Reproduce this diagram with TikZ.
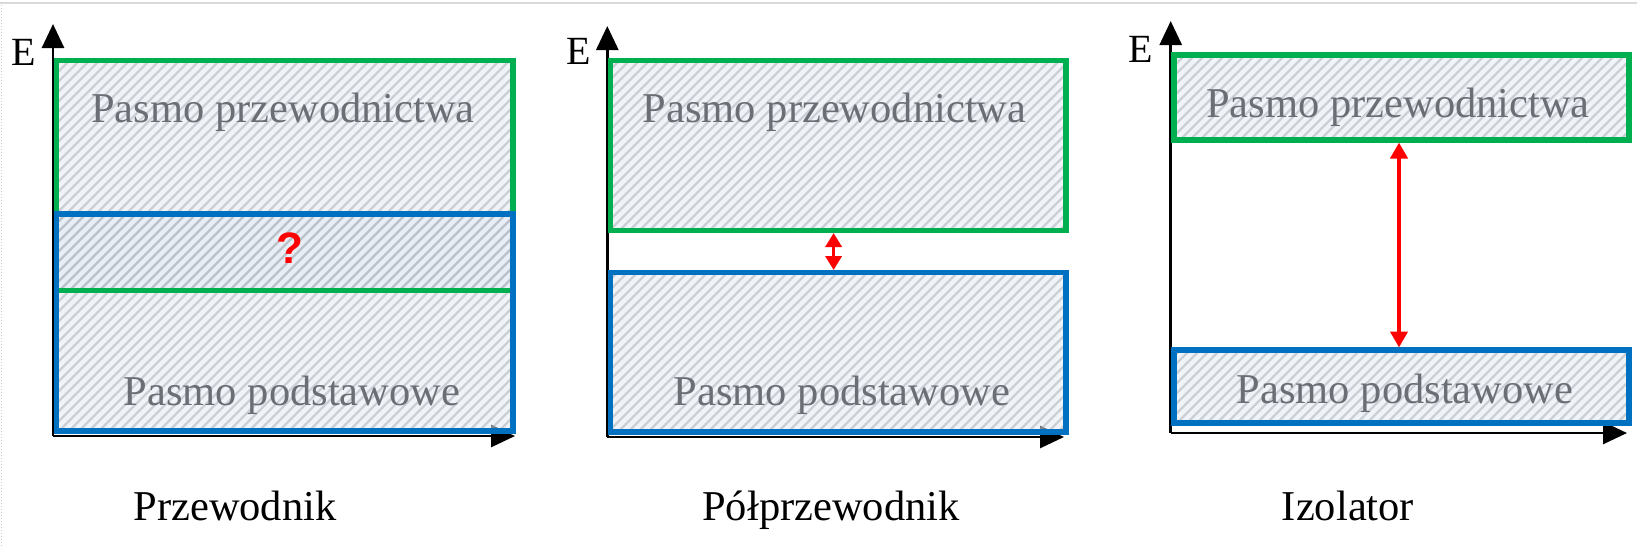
\documentclass[tikz,border=0pt]{standalone}
\usepackage{fontspec}
\setmainfont{Liberation Serif}
\newfontfamily\qfont{Liberation Sans}
\usetikzlibrary{arrows.meta}
\definecolor{bandgreen}{HTML}{00B050}
\definecolor{bandblue}{HTML}{0070C0}
\definecolor{hatchbg}{HTML}{E2EAF3}
\definecolor{hatchln}{HTML}{9A9FA8}
\definecolor{bandtxt}{HTML}{6C6E76}
\newcommand\bandhatch[4]{%
  \begin{scope}
    \clip (#1,#2) rectangle (#3,#4);
    \fill[hatchbg, fill opacity=0.5] (#1,#2) rectangle (#3,#4);
    \pgfmathtruncatemacro\hs{floor((#1+#2)/10)*10}
    \pgfmathtruncatemacro\hn{\hs+10}
    \pgfmathtruncatemacro\he{#3+#4+10}
    \foreach \c in {\hs,\hn,...,\he} \draw[hatch] ({\c-#4},#4) -- ({\c-#2},#2);
  \end{scope}}
\begin{document}
\begin{tikzpicture}[x=1pt,y=-1pt,
  axis/.style={line width=2.8pt, -{Triangle[length=24pt,width=22pt]}},
  greenband/.style={draw=bandgreen, line width=5.5pt},
  blueband/.style={draw=bandblue, line width=5.5pt},
  gapsmall/.style={draw=red, line width=3.5pt, {Triangle[length=14pt,width=16pt]}-{Triangle[length=14pt,width=16pt]}},
  gapbig/.style={draw=red, line width=4.5pt, {Triangle[length=16pt,width=17pt]}-{Triangle[length=16pt,width=17pt]}},
  hatch/.style={draw=hatchln, line width=2.3pt, draw opacity=0.42},
  bandlabel/.style={font=\fontsize{42.5}{50}\selectfont, text=bandtxt, inner sep=0, anchor=base},
  title/.style={font=\fontsize{42.5}{50}\selectfont, inner sep=0, anchor=base},
  elabel/.style={font=\fontsize{40}{48}\selectfont, inner sep=0, anchor=base},
  qmark/.style={font=\qfont\bfseries\fontsize{44}{52}\selectfont, text=red, inner sep=0, anchor=base}]
\useasboundingbox (0,0) rectangle (1637,547);
\fill[white] (0,0) rectangle (1637,547);
\draw[line width=2pt, draw=black!15] (0,3) -- (1637,3);
\draw[line width=1pt, draw=black!20, dotted] (1,5) -- (1,547);

% ---------- Panel 1: Przewodnik ----------
\coordinate (o1) at (53,436);
\coordinate (y1) at (53,24);
\coordinate (x1) at (515,436);
\draw[axis] (o1) -- (y1);
\draw[axis] (o1) -- (x1);
\bandhatch{56.7}{60.5}{513}{290.5}
\bandhatch{56.7}{214}{513}{431}
\draw[greenband] (56.7,60.5) rectangle (513,290.5);
\draw[blueband] (56.7,214) rectangle (513,431);
\node[elabel] (e1) at (24,65) {E};
\node[bandlabel] (c1) at (283,122) {Pasmo przewodnictwa};
\node[bandlabel] (v1) at (292,405) {Pasmo podstawowe};
\node[qmark] (q1) at (290,263) {?};
\node[title] (t1) at (235,520) {Przewodnik};

% ---------- Panel 2: Półprzewodnik ----------
\coordinate (o2) at (607.3,437);
\coordinate (y2) at (607.3,26);
\coordinate (x2) at (1064,437);
\draw[axis] (o2) -- (y2);
\draw[axis] (o2) -- (x2);
\bandhatch{610.5}{60.5}{1066}{230.5}
\bandhatch{610.5}{272.5}{1066}{432}
\draw[greenband] (610.5,60.5) rectangle (1066,230.5);
\draw[blueband] (610.5,272.5) rectangle (1066,432);
\coordinate (g2) at (833.6,233);
\coordinate (b2) at (833.6,270);
\draw[gapsmall] (g2) -- (b2);
\node[elabel] (e2) at (579,64.5) {E};
\node[bandlabel] (c2) at (834.6,122) {Pasmo przewodnictwa};
\node[bandlabel] (v2) at (842,405) {Pasmo podstawowe};
\node[title] (t2) at (831,520) {Półprzewodnik};

% ---------- Panel 3: Izolator ----------
\coordinate (o3) at (1170.7,433);
\coordinate (y3) at (1170.7,21);
\coordinate (x3) at (1627,433);
\draw[axis] (o3) -- (y3);
\draw[axis] (o3) -- (x3);
\bandhatch{1174}{55}{1629}{140}
\bandhatch{1174}{350}{1629}{423}
\draw[greenband] (1174,55) rectangle (1629,140);
\draw[blueband] (1174,350) rectangle (1629,423);
\coordinate (g3) at (1399,142.5);
\coordinate (b3) at (1399,347.5);
\draw[gapbig] (g3) -- (b3);
\node[elabel] (e3) at (1141,62) {E};
\node[bandlabel] (c3) at (1398,117) {Pasmo przewodnictwa};
\node[bandlabel] (v3) at (1405,403) {Pasmo podstawowe};
\node[title] (t3) at (1348,520) {Izolator};
\end{tikzpicture}
\end{document}
